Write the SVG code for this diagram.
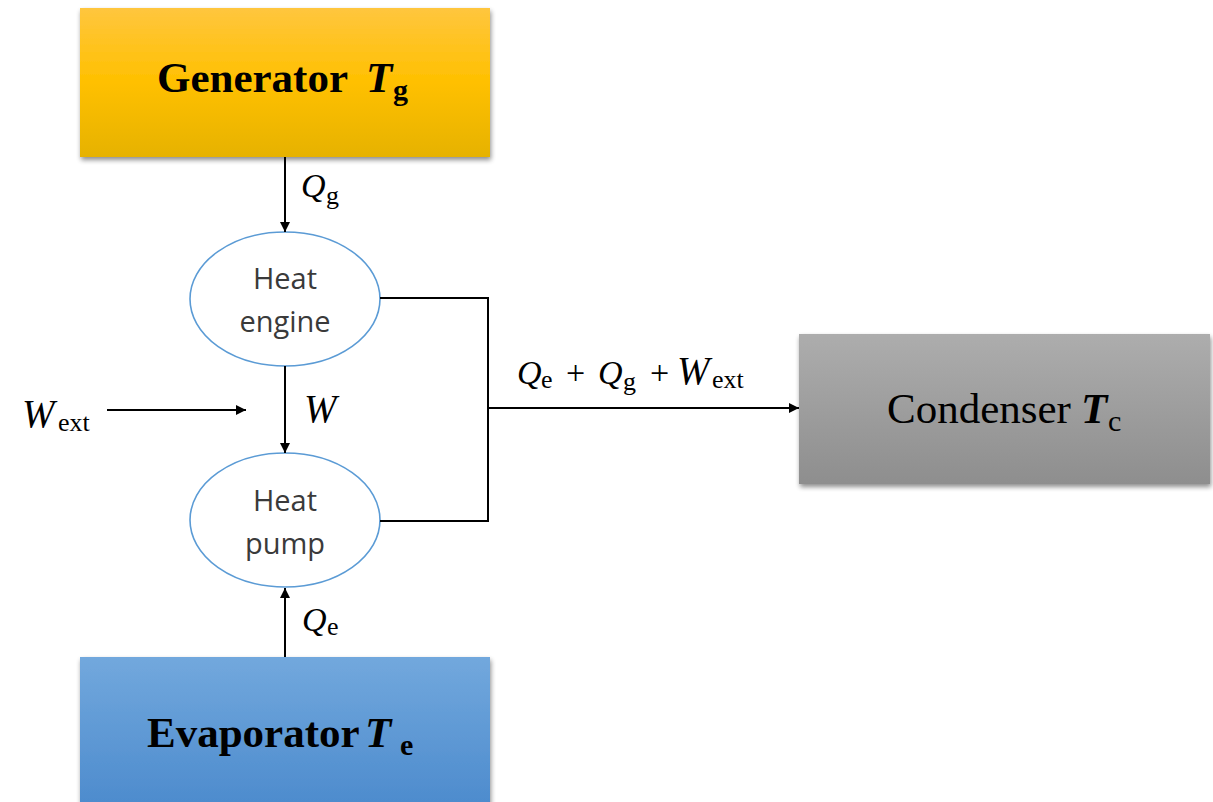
<svg xmlns="http://www.w3.org/2000/svg" width="1213" height="802" viewBox="0 0 1213 802">
<defs>
<linearGradient id="gGen" x1="0" y1="0" x2="0" y2="1"><stop offset="0" stop-color="#FFC63E"/><stop offset="0.5" stop-color="#FFC000"/><stop offset="1" stop-color="#E6B200"/></linearGradient>
<linearGradient id="gEva" x1="0" y1="0" x2="0" y2="1"><stop offset="0" stop-color="#72A8DD"/><stop offset="1" stop-color="#4A89CC"/></linearGradient>
<linearGradient id="gCon" x1="0" y1="0" x2="0" y2="1"><stop offset="0" stop-color="#ADADAD"/><stop offset="1" stop-color="#8E8E8E"/></linearGradient>
<filter id="sh" x="-5%" y="-5%" width="112%" height="115%"><feGaussianBlur in="SourceAlpha" stdDeviation="2.5"/><feOffset dx="1" dy="3" result="b"/><feComponentTransfer><feFuncA type="linear" slope="0.45"/></feComponentTransfer><feMerge><feMergeNode/><feMergeNode in="SourceGraphic"/></feMerge></filter>
<marker id="ah" viewBox="0 0 10 10" refX="10" refY="5" markerWidth="10" markerHeight="10" markerUnits="userSpaceOnUse" orient="auto"><path d="M0,0 L10,5 L0,10 z" fill="#000"/></marker>
<style>
.box{font-family:"Liberation Serif","DejaVu Serif",serif;font-weight:bold;font-size:43px;fill:#000}
.cond{font-family:"Liberation Serif","DejaVu Serif",serif;font-size:43px;fill:#000}
.math{font-family:"Liberation Serif","DejaVu Serif",serif;font-size:34px;fill:#000}
.it{font-style:italic}
.big{font-size:39px}
.sub{font-size:26px;font-style:normal}
.bsub{font-size:30px;font-style:normal}
.ell{fill:#fff;stroke:#5B9BD5;stroke-width:1.6}
.et{font-family:"Open Sans","Liberation Sans",sans-serif;font-size:29px;fill:#3a3a3a;text-anchor:middle}
.ln{stroke:#000;stroke-width:2;fill:none}
</style>
</defs>
<rect width="1213" height="802" fill="#fff"/>
<g id="generator">
<rect x="80" y="8" width="410" height="149" fill="url(#gGen)" filter="url(#sh)"/>
<text class="box" x="157" y="92">Generator<tspan class="it" x="366">T</tspan><tspan class="bsub" x="393" dy="8">g</tspan></text>
</g>
<g id="evaporator">
<rect x="80" y="657" width="410" height="160" fill="url(#gEva)" filter="url(#sh)"/>
<text class="box" x="147" y="747">Evaporator<tspan class="it" x="365">T</tspan><tspan class="bsub" x="400" dy="8">e</tspan></text>
</g>
<g id="condenser">
<rect x="799" y="334" width="411" height="150" fill="url(#gCon)" filter="url(#sh)"/>
<text class="cond" x="887" y="423">Condenser<tspan class="it" font-weight="bold" x="1081">T</tspan><tspan class="bsub" x="1108" dy="8">c</tspan></text>
</g>
<g id="heat-engine">
<ellipse class="ell" cx="285" cy="299" rx="95" ry="67"/>
<text class="et" x="285" y="289">Heat</text>
<text class="et" x="285" y="332">engine</text>
</g>
<g id="heat-pump">
<ellipse class="ell" cx="285" cy="520" rx="95" ry="67"/>
<text class="et" x="285" y="511">Heat</text>
<text class="et" x="285" y="554">pump</text>
</g>
<g id="connectors">
<line class="ln" x1="285" y1="157" x2="285" y2="232" marker-end="url(#ah)"/>
<line class="ln" x1="285" y1="366" x2="285" y2="453" marker-end="url(#ah)"/>
<line class="ln" x1="285" y1="657" x2="285" y2="588" marker-end="url(#ah)"/>
<line class="ln" x1="107" y1="410" x2="246" y2="410" marker-end="url(#ah)"/>
<polyline class="ln" points="380,298 488,298 488,521 380,521"/>
<line class="ln" x1="488" y1="408" x2="799" y2="408" marker-end="url(#ah)"/>
</g>
<g id="labels">
<text class="math" x="301" y="197"><tspan class="it">Q</tspan><tspan class="sub" x="326" dy="7">g</tspan></text>
<text class="math big" x="304" y="422"><tspan class="it">W</tspan></text>
<text class="math" x="22" y="427"><tspan class="it big">W</tspan><tspan class="sub" x="58" dy="4">ext</tspan></text>
<text class="math" x="302" y="631"><tspan class="it">Q</tspan><tspan class="sub" x="327" dy="4">e</tspan></text>
<text class="math" x="517" y="384"><tspan class="it">Q</tspan><tspan class="sub" x="541" dy="4">e</tspan><tspan x="566" dy="-4">+</tspan><tspan class="it" x="598">Q</tspan><tspan class="sub" x="623" dy="6">g</tspan><tspan x="650" dy="-6">+</tspan><tspan class="it big" x="677">W</tspan><tspan class="sub" x="712" dy="4">ext</tspan></text>
</g>
</svg>
